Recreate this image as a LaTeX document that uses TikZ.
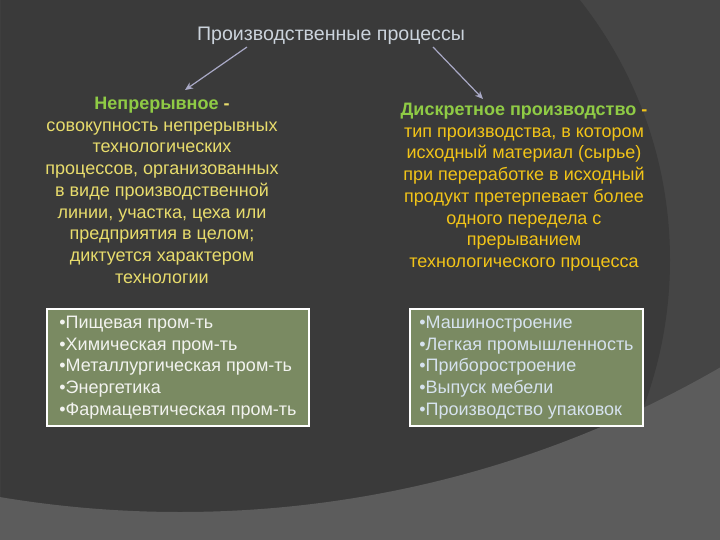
\documentclass[tikz,border=0pt]{standalone}
\usepackage{fontspec}
\setmainfont{Liberation Sans}
\usetikzlibrary{arrows.meta}
\definecolor{bgdark}{HTML}{3A3A3A}
\definecolor{bgmid}{HTML}{454545}
\definecolor{bglight}{HTML}{5C5C5C}
\definecolor{headgreen}{HTML}{8FCB45}
\definecolor{paleyellow}{HTML}{E8DC6C}
\definecolor{goldtext}{HTML}{F2C418}
\definecolor{boxolive}{HTML}{7A8A62}
\definecolor{titlegray}{HTML}{CBD3DC}
\definecolor{arrowgray}{HTML}{A9A9C6}
\definecolor{listblue}{HTML}{D6E2EE}
\begin{document}
\begin{tikzpicture}[x=1pt, y=-1pt,
  bodytext/.style={align=center, inner sep=0pt, font=\fontsize{18}{21.7}\selectfont},
  listbox/.style={draw=white, line width=2pt, fill=boxolive,
    align=left, inner sep=0pt, minimum height=117pt, font=\fontsize{18}{21.6}\selectfont},
  arr/.style={-{Stealth[length=8pt,width=7pt]}, arrowgray, line width=1.2pt}]

% background of the slide
\clip (0,0) rectangle (720,540);
\fill[bgmid] (0,0) rectangle (720,540);
\fill[bgdark] (250,260) circle[radius=420];
\fill[bglight, even odd rule] (0,0) rectangle (720,540) (180,-568) circle[radius=1080];

\node[titlegray, font=\fontsize{19.6}{22}\selectfont] (proc) at (331,36) {Производственные процессы};

% continuous
\node[bodytext, text=paleyellow, anchor=north] (cont) at (162,97)
  {{\bfseries\color{headgreen}Непрерывное} \textbf{-}\\
   совокупность непрерывных\\
   технологических\\
   процессов, организованных\\
   в виде производственной\\
   линии, участка, цеха или\\
   предприятия в целом;\\
   диктуется характером\\
   технологии};

% discrete
\node[bodytext, text=goldtext, anchor=north] (disc) at (524,103)
  {{\bfseries\color{headgreen}Дискретное производство} \textbf{-}\\
   тип производства, в котором\\
   исходный материал (сырье)\\
   при переработке в исходный\\
   продукт претерпевает более\\
   одного передела с\\
   прерыванием\\
   технологического процесса};

\draw[arr] ([xshift=-84pt,yshift=-11pt]proc.center) -- ([xshift=23pt,yshift=7pt]cont.north);
\draw[arr] ([xshift=102pt,yshift=-11pt]proc.center) -- ([xshift=-41pt,yshift=4pt]disc.north);

\node[listbox, text=white!90!boxolive, minimum width=262pt] (contlist) at (178,367.5)
  {•Пищевая пром-ть\\
   •Химическая пром-ть\\
   •Металлургическая пром-ть\\
   •Энергетика\\
   •Фармацевтическая пром-ть};

\node[listbox, text=listblue, minimum width=233pt] (disclist) at (526.5,367.5)
  {•Машиностроение\\
   •Легкая промышленность\\
   •Приборостроение\\
   •Выпуск мебели\\
   •Производство упаковок};

\end{tikzpicture}
\end{document}
